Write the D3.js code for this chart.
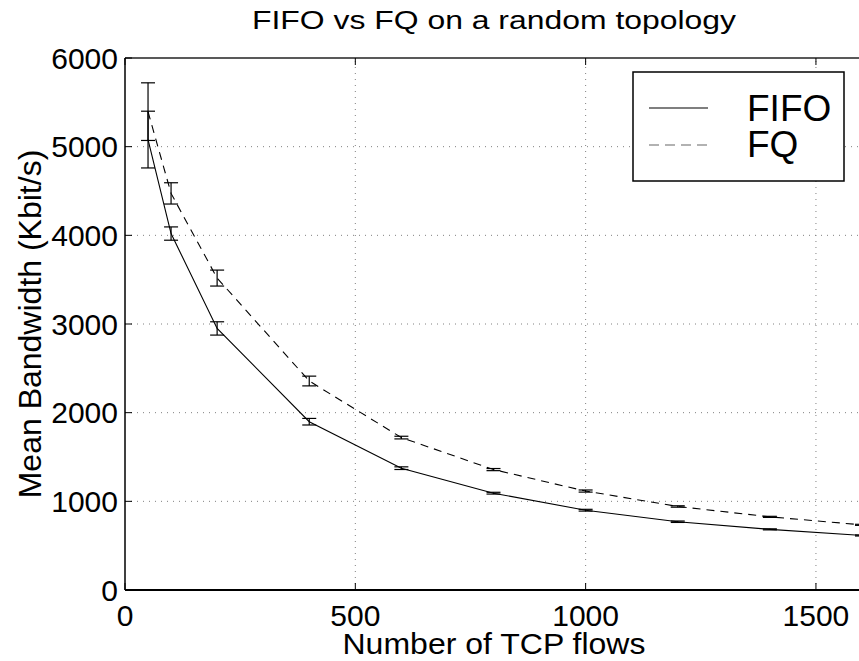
<!doctype html>
<html lang="en">
<head>
  <meta charset="utf-8">
  <title>FIFO vs FQ on a random topology</title>
  <script src="https://cdnjs.cloudflare.com/ajax/libs/d3/7.8.5/d3.min.js"></script>
  <style>
    body { margin: 0; background: #fff; }
    svg { display: block; font-family: "Liberation Sans", Arial, Helvetica, sans-serif; }
  </style>
</head>
<body>
  <svg width="859" height="661" id="svg"></svg>

<script type="text/javascript">

  // values
  var flows    = [50, 100, 200, 400, 600, 800, 1000, 1200, 1400, 1600];
  var fifoMean = [5080, 4020, 2950, 1898, 1374, 1092, 900, 770, 684, 615];
  var fifoErr  = [320, 75, 75, 37, 15, 10, 10, 8, 6, 6];
  var fqMean   = [5395, 4473, 3518, 2357, 1719, 1358, 1116, 942, 825, 735];
  var fqErr    = [325, 120, 90, 55, 15, 12, 12, 8, 6, 6];

  var xTicks = [0, 500, 1000, 1500];
  var yTicks = [0, 1000, 2000, 3000, 4000, 5000, 6000];
  var seriesNames = ['FIFO', 'FQ'];

  var svg = d3.select('#svg');

  var x = d3.scaleLinear().domain([0, 1600]).range([125, 862]);
  var y = d3.scaleLinear().domain([0, 6000]).range([590, 58]);

  /* grid, dotted */
  svg.append('g').selectAll('line')
    .data(yTicks.filter(function(d) { return d > 0 && d < 6000; }))
    .enter().append('line')
    .attr('x1', x(0)).attr('x2', x(1600))
    .attr('y1', function(d) { return y(d); })
    .attr('y2', function(d) { return y(d); })
    .attr('stroke', '#808080').attr('stroke-width', 1)
    .attr('stroke-dasharray', '1,5');

  svg.append('g').selectAll('line')
    .data(xTicks.filter(function(d) { return d > 0; }))
    .enter().append('line')
    .attr('x1', function(d) { return x(d); })
    .attr('x2', function(d) { return x(d); })
    .attr('y1', y(0)).attr('y2', y(6000))
    .attr('stroke', '#808080').attr('stroke-width', 1)
    .attr('stroke-dasharray', '1,5');

  /* series lines */
  function series(means) {
    return flows.map(function(f, i) { return [f, means[i]]; });
  }
  var line = d3.line()
    .x(function(d) { return x(d[0]); })
    .y(function(d) { return y(d[1]); });

  svg.append('path')
    .attr('d', line(series(fifoMean)))
    .attr('fill', 'none').attr('stroke', '#000').attr('stroke-width', 1.1);

  svg.append('path')
    .attr('d', line(series(fqMean)))
    .attr('fill', 'none').attr('stroke', '#000').attr('stroke-width', 1.1)
    .attr('stroke-dasharray', '8,6');

  /* error bars */
  function errorBars(means, errs) {
    var g = svg.append('g').attr('stroke', '#000').attr('stroke-width', 1.2);
    flows.forEach(function(f, i) {
      var cx = x(f), lo = y(means[i] - errs[i]), hi = y(means[i] + errs[i]);
      g.append('line').attr('x1', cx).attr('x2', cx).attr('y1', lo).attr('y2', hi);
      g.append('line').attr('x1', cx - 7).attr('x2', cx + 7).attr('y1', lo).attr('y2', lo);
      g.append('line').attr('x1', cx - 7).attr('x2', cx + 7).attr('y1', hi).attr('y2', hi);
    });
  }
  errorBars(fifoMean, fifoErr);
  errorBars(fqMean, fqErr);

  /* axes frame */
  svg.append('line')
    .attr('x1', x(0)).attr('x2', x(1600)).attr('y1', y(0)).attr('y2', y(0))
    .attr('stroke', '#000').attr('stroke-width', 2);
  svg.append('line')
    .attr('x1', x(0)).attr('x2', x(1600)).attr('y1', y(6000)).attr('y2', y(6000))
    .attr('stroke', '#222').attr('stroke-width', 1.5);
  svg.append('line')
    .attr('x1', x(0)).attr('x2', x(0)).attr('y1', y(0)).attr('y2', y(6000))
    .attr('stroke', '#000').attr('stroke-width', 1.5);

  /* inward ticks */
  var ticks = svg.append('g').attr('stroke', '#000').attr('stroke-width', 1);
  yTicks.forEach(function(d) {
    ticks.append('line').attr('x1', x(0)).attr('x2', x(0) + 7)
      .attr('y1', y(d)).attr('y2', y(d));
  });
  xTicks.forEach(function(d) {
    ticks.append('line').attr('x1', x(d)).attr('x2', x(d))
      .attr('y1', y(0)).attr('y2', y(0) - 7);
    ticks.append('line').attr('x1', x(d)).attr('x2', x(d))
      .attr('y1', y(6000)).attr('y2', y(6000) + 7);
  });

  /* tick labels */
  svg.append('g').selectAll('text')
    .data(yTicks).enter().append('text')
    .attr('x', 118)
    .attr('y', function(d) { return y(d); })
    .attr('dy', '0.36em')
    .attr('text-anchor', 'end')
    .attr('font-size', 30)
    .text(function(d) { return d; });

  svg.append('g').selectAll('text')
    .data(xTicks).enter().append('text')
    .attr('x', function(d) { return x(d); })
    .attr('y', 626)
    .attr('text-anchor', 'middle')
    .attr('font-size', 30)
    .text(function(d) { return d; });

  /* titles */
  svg.append('text')
    .attr('x', 494).attr('y', 29)
    .attr('text-anchor', 'middle')
    .attr('font-size', 26)
    .attr('textLength', 484).attr('lengthAdjust', 'spacingAndGlyphs')
    .text('FIFO vs FQ on a random topology');

  svg.append('text')
    .attr('x', 494).attr('y', 654)
    .attr('text-anchor', 'middle')
    .attr('font-size', 29)
    .attr('textLength', 303).attr('lengthAdjust', 'spacingAndGlyphs')
    .text('Number of TCP flows');

  svg.append('text')
    .attr('transform', 'translate(41,324) rotate(-90)')
    .attr('text-anchor', 'middle')
    .attr('font-size', 32)
    .text('Mean Bandwidth (Kbit/s)');

  /* legend */
  var legend = svg.append('g');
  legend.append('rect')
    .attr('x', 633).attr('y', 72).attr('width', 211).attr('height', 109)
    .attr('fill', '#fff').attr('stroke', '#000').attr('stroke-width', 1.5);

  legend.selectAll('line.key')
    .data(seriesNames).enter().append('line')
    .attr('class', 'key')
    .attr('x1', 649).attr('x2', 708)
    .attr('y1', function(d, i) { return i === 0 ? 108 : 145; })
    .attr('y2', function(d, i) { return i === 0 ? 108 : 145; })
    .attr('stroke', function(d, i) { return i === 0 ? '#000' : '#666'; })
    .attr('stroke-width', 1.2)
    .attr('stroke-dasharray', function(d, i) { return i === 0 ? null : '10,6'; });

  legend.selectAll('text')
    .data(seriesNames).enter().append('text')
    .attr('x', 747)
    .attr('y', function(d, i) { return i === 0 ? 121 : 157; })
    .attr('font-size', 37)
    .text(function(d) { return d; });

</script>
</body>
</html>
